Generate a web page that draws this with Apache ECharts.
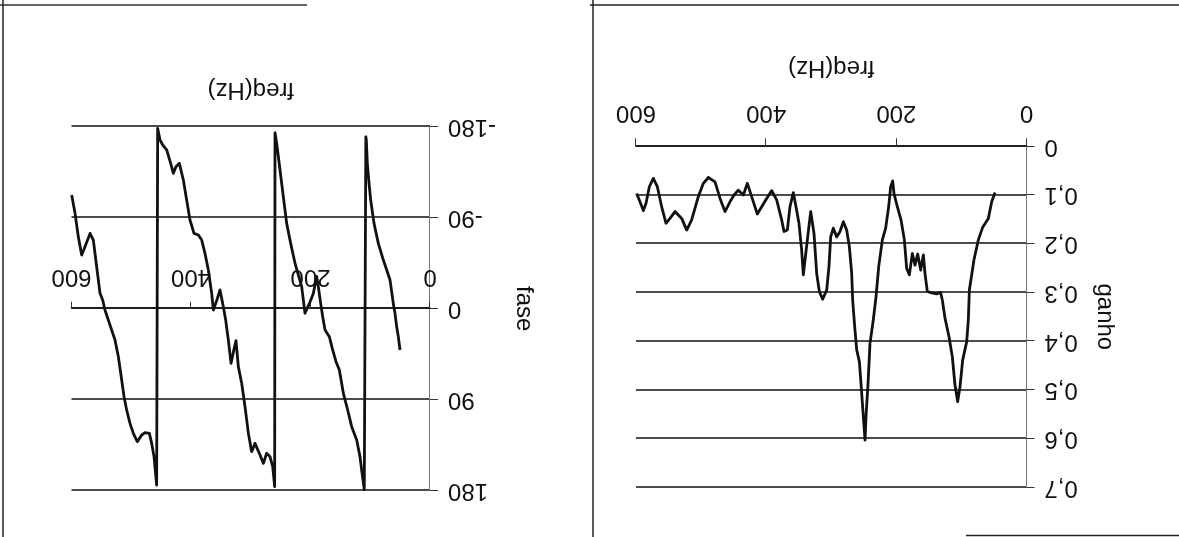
<!DOCTYPE html>
<html>
<head>
<meta charset="utf-8">
<script src="https://cdn.jsdelivr.net/npm/echarts@6/dist/echarts.min.js"></script>
<style>
html,body{margin:0;padding:0;background:#fff;overflow:hidden;}
#c{position:absolute;left:0;top:0;width:1179px;height:537px;transform:rotate(180deg);transform-origin:50% 50%;}
</style>
</head>
<body>
<div id="c"></div>
<script>
// ---- data (frequency in Hz) ----
const gainFreq = [48.4,53.5,58.6,67.3,74.0,80.7,87.8,89.4,91.9,98.1,102.2,105.8,109.9,114.0,119.1,125.2,129.3,132.0,138.0,145.7,152.4,156.0,158.5,162.6,167.2,171.3,175.4,180.0,184.1,187.7,192.8,198.5,203.6,205.6,208.7,211.8,216.4,221.5,227.1,231.2,235.5,240.5,243.5,246.6,248.1,250.7,254.3,256.8,260.9,264.0,267.1,268.6,272.2,276.3,281.4,286.6,291.7,296.8,300.9,303.5,307.0,313.2,318.3,322.4,326.5,331.6,336.2,340.3,342.9,345.5,349.6,354.2,358.3,363.4,367.5,372.6,376.2,383.9,391.5,399.2,406.9,413.6,419.7,428.9,435.1,442.8,449.4,455.6,463.3,470.9,478.6,488.9,496.5,504.2,514.5,522.1,529.8,540.1,547.8,553.9,560.6,567.2,573.4,579.5,584.6,588.7,593.9,599.0];
const gainValue = [0.095,0.114,0.148,0.166,0.192,0.233,0.295,0.357,0.401,0.439,0.494,0.524,0.490,0.432,0.391,0.353,0.316,0.300,0.303,0.301,0.298,0.261,0.223,0.254,0.221,0.244,0.220,0.264,0.251,0.192,0.151,0.124,0.097,0.071,0.083,0.124,0.168,0.192,0.247,0.309,0.357,0.405,0.487,0.555,0.603,0.555,0.487,0.442,0.418,0.370,0.316,0.261,0.206,0.172,0.155,0.175,0.186,0.168,0.186,0.247,0.295,0.314,0.298,0.261,0.179,0.134,0.186,0.233,0.264,0.213,0.158,0.124,0.095,0.124,0.172,0.175,0.151,0.110,0.091,0.107,0.124,0.139,0.114,0.076,0.100,0.090,0.100,0.114,0.134,0.107,0.073,0.064,0.076,0.103,0.151,0.172,0.148,0.134,0.148,0.158,0.124,0.083,0.066,0.083,0.117,0.132,0.114,0.097];

const phaseFreq = [50.2,53.0,55.8,58.6,61.4,66.9,78.1,86.5,93.7,99.3,102.6,104.9,106.6,107.4,110.0,111.6,114.4,117.2,122.7,131.1,137.8,145.0,151.7,157.3,162.9,168.5,175.7,179.6,183.0,186.5,189.7,195.3,202.0,209.2,214.8,225.9,233.2,239.9,245.5,251.0,256.6,259.4,260.0,263.3,267.8,273.4,278.9,284.5,292.9,298.5,304.0,309.6,315.2,320.8,324.7,328.0,333.0,337.5,342.0,345.9,351.5,357.0,362.6,365.4,371.0,376.6,382.1,387.7,395.0,401.7,407.3,412.8,419.5,425.1,429.6,434.0,440.7,447.4,451.9,455.8,457.5,461.9,465.8,469.7,477.0,482.6,489.9,496.5,502.1,507.7,512.1,516.0,521.6,527.2,532.8,538.4,544.0,547.8,552.3,557.9,563.5,569.0,577.4,583.0,588.6,594.1,599.7];
const phaseValue = [40.8,27.7,17.8,4.6,-5.0,-28.4,-48.1,-64.6,-84.4,-107.5,-127.3,-143.8,-166.9,-170,179,172,159.5,146.3,129.9,116.7,100.2,83.7,60.6,52.4,40.8,27.7,21.1,7.9,-5.3,-20,-32,-15,-5,4.5,-21.8,-44.9,-64.6,-84.4,-110.8,-137.2,-163.5,-174,176,156,146.3,143,153,144.7,133.2,141.4,123.3,96.9,73.8,57.3,31.6,40,54,31,11.2,-2,-18.5,-8,1.3,-15.2,-38.3,-54.7,-67.9,-72.9,-74.5,-87.7,-107.5,-127.3,-143.8,-140.5,-133.9,-143.8,-157,-161.9,-166.9,-178.4,174.4,146.3,133.2,123.3,122.6,124.9,131.5,123.3,113.4,100.2,87,70.5,47.5,31,21.1,11.2,1.3,-8.6,-15.2,-41.5,-67.9,-74.5,-61.3,-53.1,-71.2,-94.3,-112.4];

const freqTicks = [0, 200, 400, 600];
const gainTicks = [0, 0.1, 0.2, 0.3, 0.4, 0.5, 0.6, 0.7];
const phaseTicks = [-180, -90, 0, 90, 180];

const xName = 'freq(Hz)';
const gainName = 'ganho';
const phaseName = 'fase';

// ---- chart ----
const FONT = "'Liberation Sans', Arial, sans-serif";
const INK = '#111';
const chart = echarts.init(document.getElementById('c'), null, {renderer: 'canvas'});

// phase grid geometry (the x axis sits on the 0 line, half way up)
const PH_TOP = 46.3, PH_H = 364;

function xAxisBase(gridIndex, labelMargin, nameGap, tickLen, offset) {
  return {
    type: 'value', gridIndex: gridIndex, position: 'bottom', offset: offset,
    min: freqTicks[0], max: freqTicks[freqTicks.length - 1],
    interval: freqTicks[1] - freqTicks[0],
    name: xName, nameLocation: 'middle', nameGap: nameGap,
    nameTextStyle: {fontFamily: FONT, fontSize: 24, color: INK},
    axisLine: {show: true, onZero: false, lineStyle: {color: INK, width: 1.6}},
    axisTick: {show: true, inside: false, length: tickLen, lineStyle: {color: '#333', width: 1}},
    axisLabel: {fontFamily: FONT, fontSize: 24, color: INK, margin: labelMargin},
    splitLine: {show: false}
  };
}

function yAxisBase(gridIndex, ticks, name, nameGap, fmt) {
  return {
    type: 'value', gridIndex: gridIndex,
    min: ticks[0], max: ticks[ticks.length - 1],
    interval: ticks[1] - ticks[0],
    name: name, nameLocation: 'middle', nameRotate: 90, nameGap: nameGap,
    nameTextStyle: {fontFamily: FONT, fontSize: 24, color: INK},
    axisLine: {show: true, onZero: false, lineStyle: {color: '#777', width: 1}},
    axisTick: {show: true, inside: false, length: 8, lineStyle: {color: '#333', width: 1}},
    axisLabel: {fontFamily: FONT, fontSize: 24, color: INK, margin: 18, formatter: fmt},
    splitLine: {show: true, lineStyle: {color: INK, width: 1.6}}
  };
}

const gainFmt = v => (Math.abs(v) < 1e-9 ? '0' : v.toFixed(1).replace('.', ','));
const phaseFmt = v => String(Math.round(v));

const option = {
  backgroundColor: '#fff',
  animation: false,
  grid: [
    {left: 152.5, top: 49.7, width: 390.5, height: 341, containLabel: false, outerBoundsMode: 'none'},
    {left: 749, top: PH_TOP, width: 358.5, height: PH_H, containLabel: false, outerBoundsMode: 'none'}
  ],
  xAxis: [
    xAxisBase(0, 22, 67, 8, 0),
    xAxisBase(1, 20, 207, 7, -PH_H / 2)
  ],
  yAxis: [
    yAxisBase(0, gainTicks, gainName, 66, gainFmt),
    yAxisBase(1, phaseTicks, phaseName, 82, phaseFmt)
  ],
  series: [
    {
      type: 'line', xAxisIndex: 0, yAxisIndex: 0,
      data: gainFreq.map((f, i) => [f, gainValue[i]]),
      showSymbol: false, smooth: false,
      lineStyle: {color: INK, width: 2.8, join: 'round'}
    },
    {
      type: 'line', xAxisIndex: 1, yAxisIndex: 1,
      data: phaseFreq.map((f, i) => [f, phaseValue[i]]),
      showSymbol: false, smooth: false,
      lineStyle: {color: INK, width: 2.8, join: 'round'}
    }
  ],
  graphic: [
    {type: 'line', shape: {x1: 0, y1: 532, x2: 589, y2: 532}, style: {stroke: '#222', lineWidth: 1.5}},
    {type: 'line', shape: {x1: 872, y1: 532, x2: 1179, y2: 532}, style: {stroke: '#333', lineWidth: 1.5}},
    {type: 'line', shape: {x1: 1176, y1: 0, x2: 1176, y2: 537}, style: {stroke: '#222', lineWidth: 1.5}},
    {type: 'line', shape: {x1: 586, y1: 0, x2: 586, y2: 537}, style: {stroke: '#222', lineWidth: 1.5}},
    {type: 'line', shape: {x1: 0, y1: 1.5, x2: 213, y2: 1.5}, style: {stroke: '#222', lineWidth: 1.5}}
  ]
};
chart.setOption(option);
</script>
</body>
</html>
